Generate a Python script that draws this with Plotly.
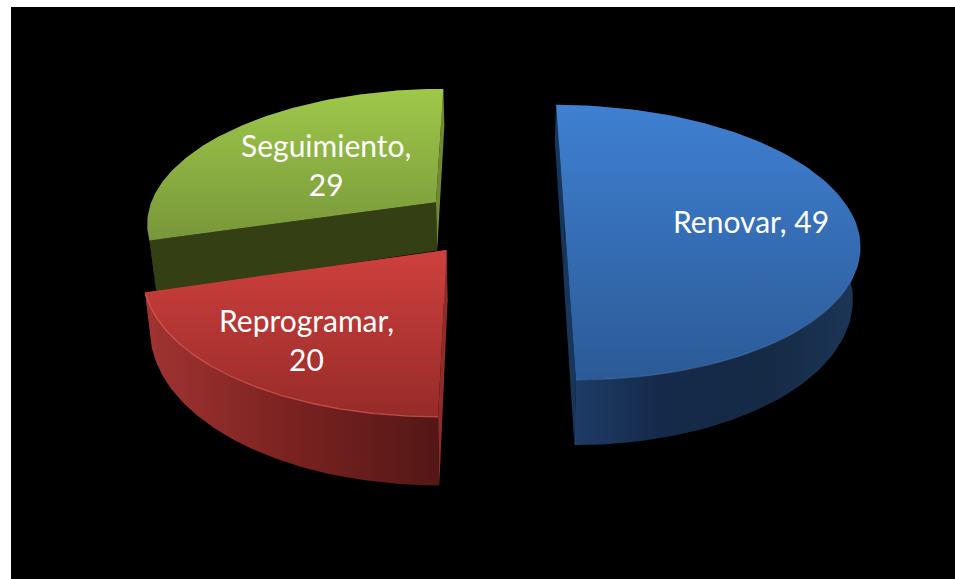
import math
import plotly.graph_objects as go

labels = ["Renovar", "Reprogramar", "Seguimiento"]
values = [49, 20, 29]

# styling of each slice
pulls = [0.236, 0.256, 0.263]
pull_turn = [0, 3.5, 0]
label_r = [0.64, 0.72, 0.45]
label_shift = [-4, 0, -16]
label_lift = [2, 1, 5]
top_grad = [("#2B5A96", "#3F80D2"), ("#962B29", "#CF403D"), ("#78973A", "#9FC84A")]
wall_grad = [
    [[0, "#1F406C"], [0.35, "#15294A"], [0.7, "#152A45"], [1, "#1C3658"]],
    [[0, "#A03432"], [0.5, "#7A2220"], [1, "#531716"]],
    [[0, "#343F14"], [1, "#343F14"]],
]
start_wall_col = ["#17365C", "#8E2C2A", "#343F14"]
end_wall_col = ["#17365C", "#A03432", "#6E8B33"]
rim_col = ["rgba(90,140,200,0.35)", "rgba(226,96,90,0.7)", "rgba(0,0,0,0)"]

# projection constants
CX, CY, A, B, K = 496.0, 223.0, 291.0, 134.8, 0.141
BX, BY0, BYK = 0.98, 29.0, 1.095


def project(theta, r, bis, pull, bottom=False):
    t, c = math.radians(theta), math.radians(bis)
    u = pull * math.sin(c) + r * math.sin(t)
    v = pull * math.cos(c) + r * math.cos(t)
    s = 1.0 / (1.0 + K * v)
    x, y = CX + A * u * s, CY - B * v * s
    if bottom:
        x, y = CX + BX * (x - CX), BY0 + BYK * y
    return x, y


total = sum(values)
slices = []
acc = 0.0
for i, val in enumerate(values):
    a0 = acc / total * 360
    acc += val
    a1 = acc / total * 360
    slices.append((i, a0, a1))

fig = go.Figure()


def poly(pts, **kw):
    fig.add_trace(go.Scatter(
        x=[p[0] for p in pts], y=[p[1] for p in pts],
        fill="toself", hoverinfo="skip", showlegend=False,
        line=dict(width=0), mode="lines", **kw))


annotations = []
# paint order: back slice first, red (front-left) last
for i, a0, a1 in [slices[2], slices[0], slices[1]]:
    mid = (a0 + a1) / 2
    bis = mid + pull_turn[i]
    p = pulls[i]
    n = 120
    arc = [a0 + (a1 - a0) * j / n for j in range(n + 1)]
    top_arc = [project(t, 1, bis, p) for t in arc]
    bot_arc = [project(t, 1, bis, p, True) for t in arc]
    apex = project(a0, 0, bis, p)
    apex_b = project(a0, 0, bis, p, True)

    # radial wall at the end angle, then outer wall, then start-angle wall
    green = i == 2
    if green:
        poly(top_arc + bot_arc[::-1],
             fillgradient=dict(type="horizontal", colorscale=wall_grad[i]))
        poly([top_arc[0], apex, apex_b, bot_arc[0]], fillcolor=start_wall_col[i])
        poly([top_arc[-1], apex, apex_b, bot_arc[-1]], fillcolor=end_wall_col[i])
    else:
        poly([top_arc[-1], apex, apex_b, bot_arc[-1]], fillcolor=end_wall_col[i])
        poly(top_arc + bot_arc[::-1],
             fillgradient=dict(type="horizontal", colorscale=wall_grad[i]))
        poly([top_arc[0], apex, apex_b, bot_arc[0]], fillcolor=start_wall_col[i])
    # top face
    poly(top_arc + [apex],
         fillgradient=dict(type="vertical",
                           colorscale=[[0, top_grad[i][0]], [1, top_grad[i][1]]]))
    # lit rim on the near part of the edge only
    rim = [q for q, t in zip(top_arc, arc) if math.cos(math.radians(t)) < 0.1]
    if rim:
        fig.add_trace(go.Scatter(
            x=[q[0] for q in rim], y=[q[1] for q in rim], mode="lines",
            line=dict(width=1.3, color=rim_col[i]), hoverinfo="skip", showlegend=False))

    lx, ly = project(mid, label_r[i], mid, 0.25)
    txt = f"{labels[i]}, {values[i]}" if i == 0 else f"{labels[i]},<br>{values[i]}"
    annotations.append(dict(x=lx, y=ly, xref="x", yref="y", text=txt, showarrow=False,
                            xshift=label_shift[i], yshift=label_lift[i], align="center",
                            font=dict(family="Lato, Carlito, sans-serif", size=30, color="#FFFFFF")))

fig.update_layout(
    width=955, height=579,
    margin=dict(l=11, r=0, t=7, b=0),
    paper_bgcolor="#FFFFFF", plot_bgcolor="#000000",
    xaxis=dict(range=[11, 955], visible=False, fixedrange=True),
    yaxis=dict(range=[579, 7], visible=False, fixedrange=True),
    annotations=annotations,
    showlegend=False,
)
fig.write_html("out.html", config={"displayModeBar": False},
               post_script="document.body.style.margin='0';document.body.style.overflow='hidden';")
